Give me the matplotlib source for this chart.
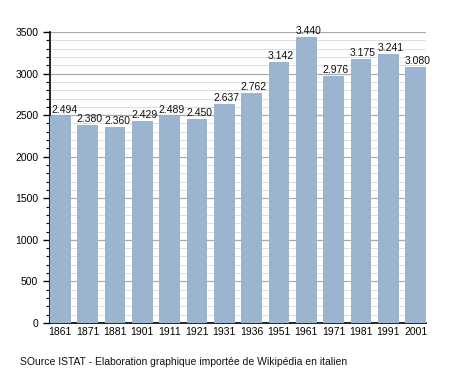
import matplotlib
matplotlib.use('Agg')
import matplotlib.pyplot as plt
import numpy as np

# dati
anni = ['1861', '1871', '1881', '1901', '1911', '1921', '1931', '1936',
        '1951', '1961', '1971', '1981', '1991', '2001']
abitanti = [2494, 2380, 2360, 2429, 2489, 2450, 2637, 2762,
            3142, 3440, 2976, 3175, 3241, 3080]
etichette = ['2.494', '2.380', '2.360', '2.429', '2.489', '2.450', '2.637', '2.762',
             '3.142', '3.440', '2.976', '3.175', '3.241', '3.080']

plt.rcParams['font.family'] = ['Liberation Sans', 'DejaVu Sans']

fig = plt.figure(figsize=(4.55, 3.73), dpi=100)
ax = fig.add_axes([50 / 455, 1 - 323 / 373, 376 / 455, 291 / 373])

x = np.arange(len(anni))
larghezza = 0.76
ax.bar(x, abitanti, width=larghezza, color='#9bb4d0', zorder=3)

for i, (xi, v, t) in enumerate(zip(x, abitanti, etichette)):
    dx = 4 if i == 0 else 2  # la prima etichetta e' spostata per non toccare l'asse
    ax.annotate(t, (xi, v), xytext=(dx, 1), textcoords='offset pixels',
                ha='center', va='bottom', fontsize=7.5, color='#111111', zorder=4)

ax.set_xlim(-larghezza / 2, len(anni) - 1 + larghezza / 2)
ax.set_ylim(0, 3500)
ax.set_xticks(x)
ax.set_xticklabels(anni, fontsize=7.5)
ax.set_yticks(range(0, 3501, 500))
ax.set_yticks(range(0, 3501, 100), minor=True)
ax.tick_params(axis='y', labelsize=7.5, length=5, width=1, direction='out')
ax.tick_params(axis='y', which='minor', length=3, width=0.8)
ax.tick_params(axis='x', length=0, pad=3)

ax.grid(axis='y', which='major', color='#aaaaaa', linewidth=0.9, zorder=0)
ax.grid(axis='y', which='minor', color='#dddddd', linewidth=0.7, zorder=0)

for s in ['top', 'right']:
    ax.spines[s].set_visible(False)
ax.spines['left'].set_linewidth(1.2)
ax.spines['bottom'].set_linewidth(1.2)

fig.text(20 / 455, 1 - 362 / 373, 'SOurce ISTAT - Elaboration graphique importée de Wikipédia en italien',
         fontsize=7.5, va='center', ha='left', color='#111111')

fig.savefig('out.png', dpi=100)
